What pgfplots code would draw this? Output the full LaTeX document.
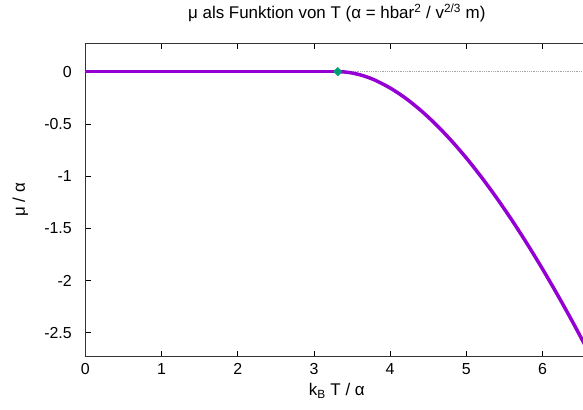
\documentclass[border=0pt]{standalone}
\usepackage{fontspec}
\setmainfont{Liberation Sans}
\usepackage{pgfplots}
\pgfplotsset{compat=1.18}
\definecolor{muline}{HTML}{9400D3}
\definecolor{tcmark}{HTML}{009E73}
\newcommand{\fs}{\fontsize{16}{19}\selectfont}
\newcommand{\fst}{\fontsize{17}{20}\selectfont}

% mu(T) in units of alpha, above T_c
\pgfplotstableread{
T      mu
3.313  0
3.35   -0.0005
3.4    -0.00275
3.45   -0.00676
3.5    -0.01248
3.6    -0.02893
3.7    -0.05176
3.8    -0.08072
4.0    -0.15595
4.2    -0.25272
4.4    -0.36956
4.6    -0.50505
4.8    -0.65802
5.0    -0.82730
5.2    -1.01218
5.4    -1.21170
5.6    -1.42510
5.8    -1.65172
6.0    -1.89096
6.2    -2.14230
6.4    -2.40493
6.6    -2.67848
}\mudata

\begin{document}
\begin{tikzpicture}
\useasboundingbox (-85.3bp,-53.3bp) rectangle (497.7bp,356.7bp);
\clip (-85.3bp,-53.3bp) rectangle (497.7bp,356.7bp);
\begin{axis}[
  at={(0,0)}, anchor=south west,
  scale only axis,
  width=503bp, height=313.4bp,
  xmin=0, xmax=6.6,
  ymin=-2.730, ymax=0.272,
  xtick={0,1,2,3,4,5,6},
  xticklabels={0,1,2,3,4,5,6},
  ytick={0,-0.5,-1,-1.5,-2,-2.5},
  yticklabels={0,-0.5,-1,-1.5,-2,-2.5},
  ytick pos=left,
  tick align=inside,
  major tick length=6bp,
  tick style={black, line width=0.6bp},
  axis line style={black!80, line width=1bp},
  tick label style={font=\fs},
  xticklabel style={anchor=center, yshift=-12bp},
  yticklabel style={xshift=-10bp},
  title={μ als Funktion von T (α = hbar\textsuperscript{2} / v\textsuperscript{2/3} m)},
  title style={font=\fst, at={(rel axis cs:0.5,1)}, anchor=center, yshift=24.3bp},
  xlabel={k\textsubscript{B} T / α},
  xlabel style={font=\fst, at={(rel axis cs:0.5,0)}, anchor=center, yshift=-34.3bp},
  ylabel={μ / α},
  ylabel style={font=\fst, at={(axis description cs:-0.1292,0.5)}, anchor=center},
]
\addplot[gray!70, densely dotted, line width=0.8bp] coordinates {(0,0) (6.6,0)};
\addplot[muline, line width=3.5bp, line cap=round] coordinates {(0,0) (3.313,0)};
\addplot[muline, line width=3.5bp, line cap=round, smooth] table[x=T, y=mu] {\mudata};
\addplot[only marks, mark=square*, mark size=3bp, mark options={rotate=45, fill=tcmark, draw=tcmark}] coordinates {(3.313,0)};
\end{axis}
\end{tikzpicture}
\end{document}
